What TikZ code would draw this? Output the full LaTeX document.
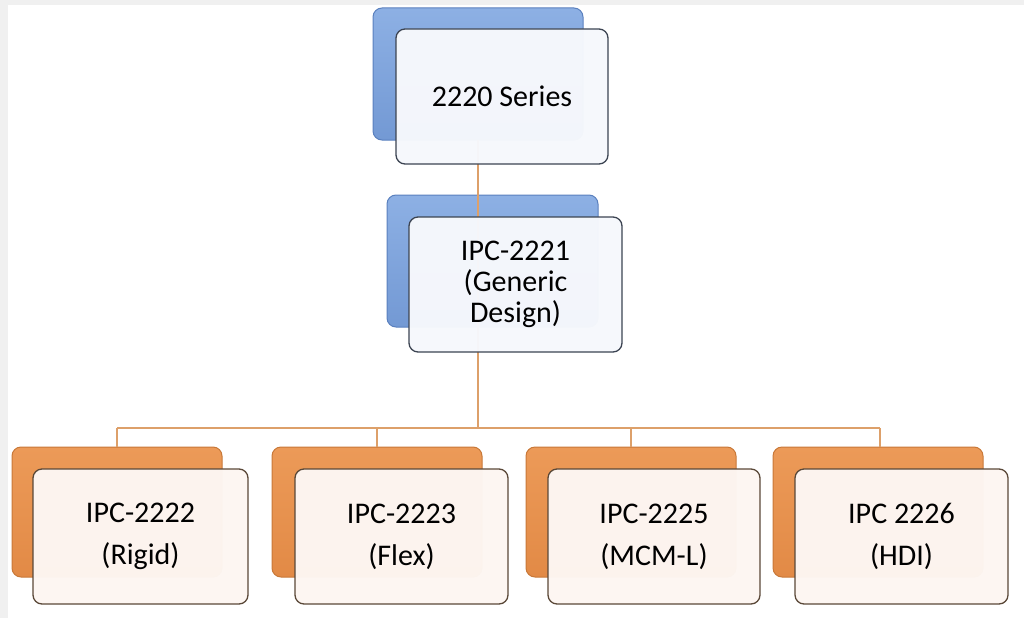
\documentclass[tikz,border=0pt]{standalone}
\usepackage{fontspec}
\setmainfont{Carlito}
\definecolor{bluetop}{HTML}{8DB0E4}
\definecolor{bluebot}{HTML}{7399D4}
\definecolor{blueedge}{HTML}{5A80BE}
\definecolor{orgtop}{HTML}{EC9A58}
\definecolor{orgbot}{HTML}{E28A46}
\definecolor{orgedge}{HTML}{C87838}
\definecolor{conn}{HTML}{DDA06A}
\definecolor{bfront}{HTML}{F6F8FC}
\definecolor{ofront}{HTML}{FDF6F2}
\definecolor{frameg}{HTML}{F0F0F0}
\definecolor{bfedge}{HTML}{3C4452}
\definecolor{ofedge}{HTML}{5A4838}
\tikzset{
  backblue/.style={rounded corners=9pt, draw=blueedge, line width=1pt, top color=bluetop, bottom color=bluebot},
  backorg/.style={rounded corners=9pt, draw=orgedge, line width=1pt, top color=orgtop, bottom color=orgbot},
  frontblue/.style={rounded corners=9pt, draw=bfedge, line width=1.3pt, fill=bfront, fill opacity=0.975, text opacity=1, font=\fontsize{30}{31}\selectfont, align=center},
  frontorg/.style={rounded corners=9pt, draw=ofedge, line width=1.3pt, fill=ofront, fill opacity=0.975, text opacity=1, font=\fontsize{30}{42}\selectfont, align=center},
  connector/.style={draw=conn, line width=1.8pt},
}
\begin{document}
\begin{tikzpicture}[x=1pt,y=-1pt]
\useasboundingbox (0,0) rectangle (1024,618);
\fill[frameg] (0,0) rectangle (1024,5);
\fill[frameg] (0,0) rectangle (8,618);
% connectors (behind)
\coordinate (bus) at (478,428);
\coordinate (busL) at (117,428);
\coordinate (busR) at (880,428);
% back boxes
\path[backblue] (373,8) rectangle (583,140);
\path[backblue] (387,195) rectangle (598,327);
\node[backorg, minimum width=210pt, minimum height=130pt] (b1) at (117,512) {};
\node[backorg, minimum width=210pt, minimum height=130pt] (b2) at (377,512) {};
\node[backorg, minimum width=210pt, minimum height=130pt] (b3) at (631,512) {};
\node[backorg, minimum width=210pt, minimum height=130pt] (b4) at (878,512) {};
\coordinate (top) at (478,140);
\coordinate (mid) at (478,327);
\draw[connector] (top) -- (mid);
\draw[connector] (mid) -- (bus);
\draw[connector] (busL) -- (busR);
\draw[connector] (busL) -- (b1.north -| busL);
\draw[connector] (377,428) -- (b2.north);
\draw[connector] (631,428) -- (b3.north);
\draw[connector] (busR) -- (b4.north -| busR);
% front boxes
\node[frontblue, minimum width=212pt, minimum height=135pt] (n0) at (502,96.5) {2220 Series};
\node[frontblue, minimum width=213pt, minimum height=135pt] (n1) at (515.5,284.5) {IPC-2221\\(Generic\\Design)};
\node[frontorg, minimum width=215pt, minimum height=135pt] (n2) at (140.5,536.5) {IPC-2222\\(Rigid)};
\node[frontorg, minimum width=213pt, minimum height=135pt] (n3) at (401.5,536.5) {IPC-2223\\(Flex)};
\node[frontorg, minimum width=212pt, minimum height=135pt] (n4) at (654,536.5) {IPC-2225\\(MCM-L)};
\node[frontorg, minimum width=213pt, minimum height=135pt] (n5) at (901.5,536.5) {IPC 2226\\(HDI)};
\end{tikzpicture}
\end{document}
